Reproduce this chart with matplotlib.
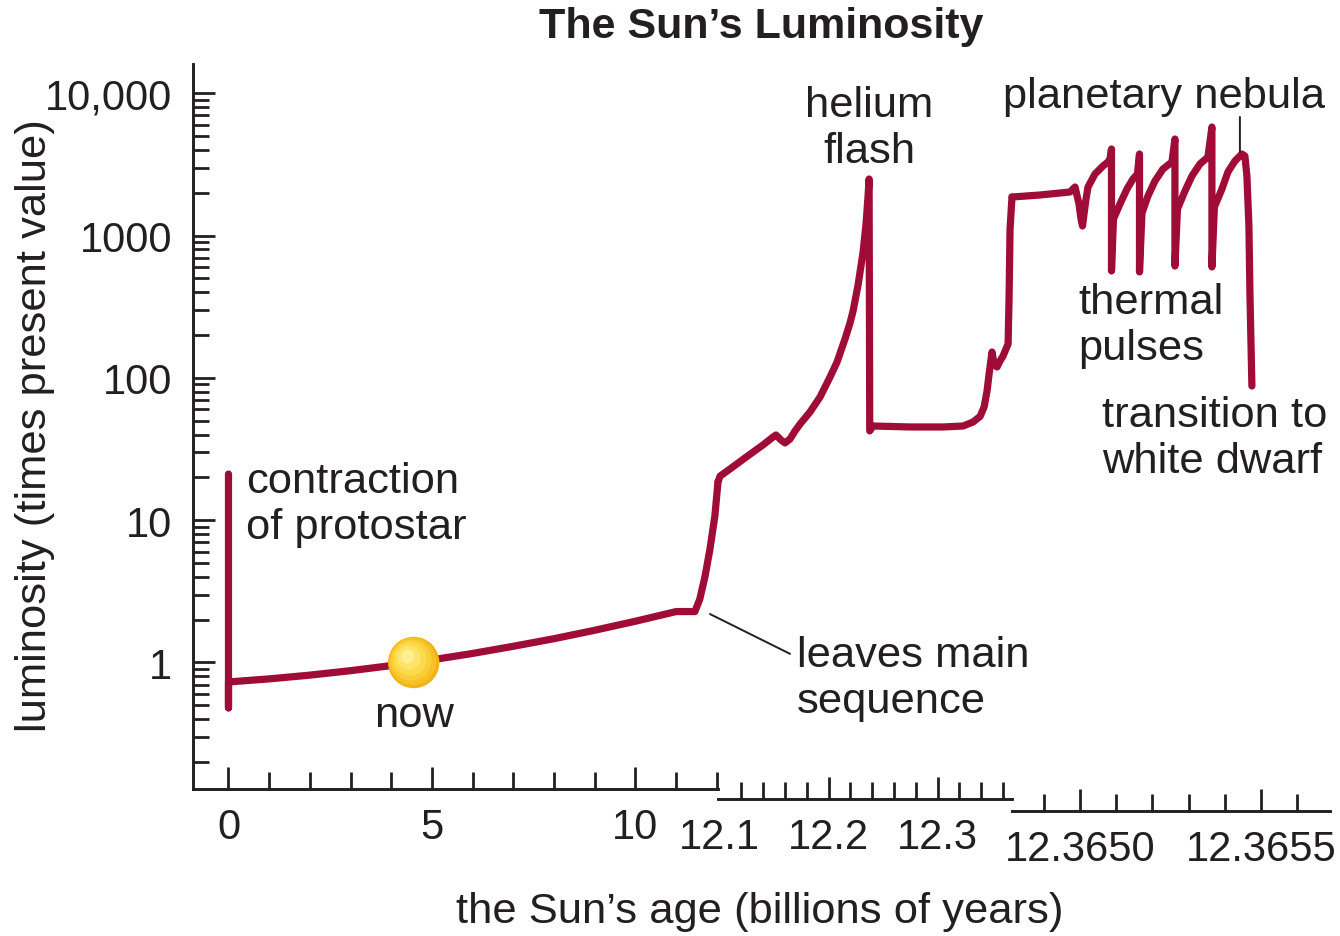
import matplotlib
matplotlib.use("Agg")
import matplotlib.pyplot as plt
import matplotlib.transforms as mtransforms
from matplotlib.ticker import FixedLocator, FixedFormatter, NullFormatter

# ---------------- data ----------------
# segment 1 : pre-main-sequence + main sequence (billions of years)
age_early = [0, 0, 0, 1, 2, 3, 4, 4.55, 5, 6, 7, 8, 9, 10, 11.0, 11.46,
             11.58, 11.71, 11.83, 11.95, 12.027]
lum_early = [21.1, 0.48, 0.73, 0.767, 0.815, 0.876, 0.951, 1.0, 1.044, 1.158, 1.30, 1.47,
             1.685, 1.95, 2.28, 2.28, 2.79, 4.05, 6.28, 10.7, 18.6]

# segment 2 : red giant, helium flash, horizontal branch
age_giant = [12.0986, 12.1005, 12.1096, 12.1234, 12.1399, 12.1491, 12.1518, 12.1564,
             12.1601, 12.1647, 12.1693, 12.1739, 12.1830, 12.1922, 12.2014, 12.2078,
             12.2151, 12.2197, 12.2225, 12.2271, 12.2317, 12.2344, 12.2362, 12.2372,
             12.2378, 12.2408, 12.2748, 12.3051, 12.3234, 12.3326, 12.3390, 12.3427,
             12.3454, 12.3473, 12.3491, 12.3500, 12.3518, 12.3546, 12.3573, 12.3601,
             12.3628, 12.3647, 12.3656, 12.3665, 12.3683]
lum_giant = [18.6, 20.4, 22.9, 27.4, 33.8, 38.4, 39.7, 36.6,
             34.9, 37.2, 42.4, 47.4, 57.6, 73.4, 101.5, 129.3,
             187.6, 243, 295, 450, 767, 1206, 1867, 2499,
             42.4, 45.9, 45.2, 45.2, 45.9, 49.0, 53.6, 62.4,
             80.9, 106.5, 135.8, 152.1, 125.2, 119.3, 131.5, 142.5,
             160, 173, 358, 1112, 1867]

# segment 3 : asymptotic giant branch, thermal pulses, transition to white dwarf
age_agb = [12.364812, 12.3648895, 12.3649724, 12.3649862, 12.3649972, 12.3650028,
           12.3650069, 12.3650110, 12.3650166, 12.3650221, 12.3650414, 12.3650635,
           12.3650773, 12.3650829,
           12.365087, 12.365087, 12.3650925, 12.3651105, 12.3651298, 12.3651464, 12.3651588,
           12.3651644, 12.3651644, 12.3651713, 12.3651878, 12.3652072, 12.3652293, 12.3652541,
           12.3652624, 12.3652624, 12.3652693, 12.3652901, 12.3653094, 12.3653315, 12.3653536,
           12.3653646, 12.3653646, 12.3653715, 12.3653923, 12.3654088, 12.3654282, 12.3654475,
           12.3654558, 12.3654613, 12.3654669, 12.3654696, 12.3654751]
lum_agb = [1867, 1929, 2025, 2195, 1668, 1309,
           1168, 1418, 1808, 2195, 2710, 3084,
           3290, 3453,
           4061, 564, 1309, 1668, 2126, 2499, 2710,
           3745, 555, 1441, 1898, 2420, 2938, 3290,
           4773, 611, 1538, 2058, 2624, 3187, 3568,
           5797, 602, 1589, 2126, 2798, 3344, 3745,
           3626, 2624, 1168, 402, 87.7]

now_age, now_lum = 4.55, 1.0

y_ticks = [1, 10, 100, 1000, 10000]
y_labels = ["1", "10", "100", "1000", "10,000"]
x1_ticks, x1_labels = [0, 5, 10], ["0", "5", "10"]
x1_minor = [1, 2, 3, 4, 6, 7, 8, 9, 11, 12]
x2_ticks, x2_labels = [12.1, 12.2, 12.3], ["12.1", "12.2", "12.3"]
x2_minor = [12.12, 12.14, 12.16, 12.18, 12.22, 12.24, 12.26, 12.28, 12.32, 12.34, 12.36]
x3_ticks, x3_labels = [12.3650, 12.3655], ["12.3650", "12.3655"]
x3_minor = [12.3649, 12.3651, 12.3652, 12.3653, 12.3654, 12.3656]

# ---------------- style ----------------
W, H, DPI = 1340, 937, 100
RED = "#A00C38"
INK = "#231F20"
FS = 30        # tick labels
FT = 31.3      # annotations and axis titles
plt.rcParams["font.family"] = ["Liberation Sans", "DejaVu Sans"]
plt.rcParams["text.color"] = INK

fig = plt.figure(figsize=(W / DPI, H / DPI), dpi=DPI)
fig.patch.set_facecolor("white")

def fx(px):
    return px / W

def fy(py):
    return 1 - py / H

bottom, top = fy(790), fy(65)
ax1 = fig.add_axes([fx(193), bottom, fx(718) - fx(193), top - bottom])
ax2 = fig.add_axes([fx(718), bottom, fx(1012) - fx(718), top - bottom])
ax3 = fig.add_axes([fx(1012), bottom, fx(1330) - fx(1012), top - bottom])

ax1.set_xlim(-0.872, 12.027)
ax2.set_xlim(12.0986, 12.3683)
ax3.set_xlim(12.364812, 12.365691)

for ax in (ax1, ax2, ax3):
    ax.set_yscale("log")
    ax.set_ylim(0.1291, 16066)
    ax.patch.set_visible(False)
    for s in ("top", "right"):
        ax.spines[s].set_visible(False)
    ax.spines["bottom"].set_linewidth(2.1)
    ax.spines["bottom"].set_color(INK)
    ax.tick_params(axis="x", which="major", direction="in", length=16, width=2.0,
                   color=INK, labelcolor=INK, labelsize=FS, pad=13)
    ax.tick_params(axis="x", which="minor", direction="in", length=12, width=2.0,
                   color=INK)

for ax in (ax2, ax3):
    ax.spines["left"].set_visible(False)
    ax.yaxis.set_visible(False)

ax2.spines["bottom"].set_position(("outward", 10 * 72 / DPI))
ax3.spines["bottom"].set_position(("outward", 21.5 * 72 / DPI))

# y axis
ax1.spines["left"].set_linewidth(2.1)
ax1.spines["left"].set_color(INK)
ax1.yaxis.set_major_locator(FixedLocator(y_ticks))
ax1.yaxis.set_major_formatter(FixedFormatter(y_labels))
ax1.yaxis.set_minor_formatter(NullFormatter())
ax1.tick_params(axis="y", which="major", direction="in", length=16, width=2.0,
                color=INK, labelcolor=INK, labelsize=FS, pad=15)
ax1.tick_params(axis="y", which="minor", direction="in", length=11.5, width=2.0, color=INK)

# x axes
for ax, mj, lb, mn in ((ax1, x1_ticks, x1_labels, x1_minor),
                       (ax2, x2_ticks, x2_labels, x2_minor),
                       (ax3, x3_ticks, x3_labels, x3_minor)):
    ax.xaxis.set_major_locator(FixedLocator(mj))
    ax.xaxis.set_major_formatter(FixedFormatter(lb))
    ax.xaxis.set_minor_locator(FixedLocator(mn))
    ax.xaxis.set_minor_formatter(NullFormatter())

fig.canvas.draw()
ax2.xaxis.get_major_ticks()[0].tick1line.set_visible(False)

# ---------------- curve ----------------
line_kw = dict(color=RED, lw=5.2, solid_capstyle="round", solid_joinstyle="round",
               clip_on=False, zorder=3)
ax1.plot(age_early, lum_early, **line_kw)
ax2.plot(age_giant, lum_giant, **line_kw)
ax3.plot(age_agb, lum_agb, **line_kw)

# the Sun "now"
sun_layers = [(37.0, "#F2B31A", 0), (34.0, "#F7C126", 1), (29.5, "#FACE36", 2),
              (24.0, "#FCDA4C", 3), (17.5, "#FDE468", 4), (10.0, "#FEEE90", 5)]
for d, c, k in sun_layers:
    tr = mtransforms.offset_copy(ax1.transData, fig=fig, x=-1.2 * k, y=1.2 * k, units="dots")
    ax1.scatter([now_age], [now_lum], s=d ** 2, color=c, edgecolors="none",
                transform=tr, zorder=4 + k * 0.01, clip_on=False)

# ---------------- text ----------------
fig.text(fx(761), fy(27), "The Sun\u2019s Luminosity", ha="center", va="center",
         fontsize=31, fontweight="bold")
fig.text(fx(760), fy(912), "the Sun\u2019s age (billions of years)", ha="center",
         va="center", fontsize=FT)
fig.text(fx(35), fy(426), "luminosity (times present value)", ha="center", va="center",
         rotation=90, fontsize=FT)

ax1.annotate("now", xy=(now_age, now_lum), xytext=(0, -53), textcoords="offset pixels",
             ha="center", va="center", fontsize=FT)
fig.text(fx(246), fy(505), "contraction\nof protostar", ha="left", va="center",
         fontsize=FT, linespacing=1.2)
fig.text(fx(797), fy(679), "leaves main\nsequence", ha="left", va="center",
         fontsize=FT, linespacing=1.2)
fig.text(fx(869), fy(129), "helium\nflash", ha="center", va="center",
         fontsize=FT, linespacing=1.2)
fig.text(fx(1003), fy(97), "planetary nebula", ha="left", va="center", fontsize=FT)
fig.text(fx(1078), fy(326), "thermal\npulses", ha="left", va="center",
         fontsize=FT, linespacing=1.2)
fig.text(fx(1102), fy(439), "transition to\nwhite dwarf", ha="left", va="center",
         fontsize=FT, linespacing=1.2)

# pointer lines
ax1.annotate("", xy=(11.83, 2.19), xytext=(12.1647, 1.15), textcoords=ax2.transData,
             arrowprops=dict(arrowstyle="-", color=INK, lw=1.4, shrinkA=0, shrinkB=0),
             annotation_clip=False)
ax3.annotate("", xy=(12.365442, 3868), xytext=(12.365442, 6815),
             arrowprops=dict(arrowstyle="-", color=INK, lw=1.4, shrinkA=0, shrinkB=0),
             annotation_clip=False)

fig.savefig("out.png", dpi=DPI)
